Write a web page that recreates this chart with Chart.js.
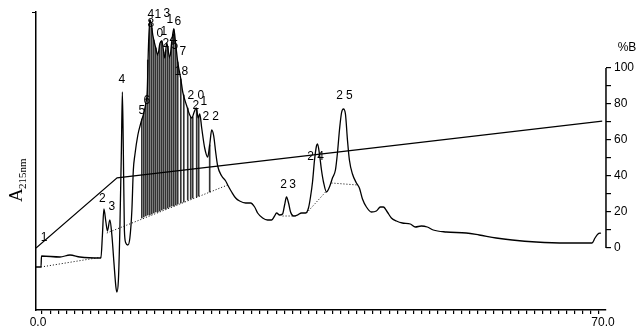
<!DOCTYPE html>
<html>
<head>
<meta charset="utf-8">
<script src="https://cdn.jsdelivr.net/npm/chart.js@4"></script>
<style>
body { margin: 0; background: #fff; }
#wrap { width: 641px; height: 330px; }
</style>
</head>
<body>
<div id="wrap"><canvas id="chromChart"></canvas></div>
<script>
// chromatogram trace (time in min, absorbance in arbitrary units)
const traceTime = [-0.25, 0.37, 0.43, 2.72, 3.96, 5.19, 7.79, 7.98, 8.16, 8.41, 8.6, 8.9, 9.15, 9.4, 9.65, 9.77, 9.96,
  10.14, 10.33, 10.45, 10.57, 10.7, 10.88, 11.13, 11.38, 11.63, 11.81, 12.0, 12.37, 12.74, 13.11, 13.36, 13.54, 13.67,
  13.85, 14.03, 14.22, 14.59, 14.84, 15.09, 15.34, 15.71, 15.95, 16.32, 16.57, 16.82, 17.07, 17.31, 17.69, 17.93,
  18.43, 18.8, 19.05, 19.35, 19.6, 19.85, 20.04, 20.28, 20.65, 21.02, 21.27, 21.52, 21.77, 22.01, 22.26, 22.76, 23.25,
  23.5, 23.99, 24.49, 24.98, 25.72, 26.34, 26.84, 27.21, 27.83, 28.44, 28.94, 29.31, 29.56, 29.93, 30.3, 30.55, 30.79,
  31.04, 31.29, 31.66, 32.15, 32.65, 33.14, 33.51, 33.76, 34.01, 34.26, 34.5, 34.63, 34.87, 35.12, 35.37, 35.74, 36.11,
  36.48, 36.85, 37.1, 37.35, 37.6, 37.84, 38.09, 38.34, 38.58, 38.96, 39.45, 39.82, 40.2, 40.69, 41.31, 41.92, 42.42,
  42.79, 43.28, 43.78, 44.4, 45.14, 46.13, 46.75, 47.49, 48.23, 48.97, 50.58, 53.05, 54.66, 56.76, 58.74, 61.71, 65.42,
  68.64, 69.01, 69.38, 69.75];
const traceAbs = [43, 43, 54, 53, 55, 53, 52, 75, 101, 88, 79, 90, 75, 48, 23, 18, 30,
  80, 160, 218, 160, 80, 67, 65, 72, 100, 140, 155, 175, 187, 197, 207, 220, 260,
  290, 286, 275, 262, 255, 266, 269, 252, 267, 252, 268, 281, 265, 248, 231, 218,
  204, 195, 192, 198, 202, 192, 196, 182, 162, 153, 165, 180, 174, 158, 144, 134, 129,
  125, 118, 112, 109, 107, 107, 103, 97, 92, 90, 90, 94, 97, 95, 96, 105, 113,
  107, 98, 94, 95, 97, 97, 102, 113, 128, 150, 164, 166, 156, 140, 128, 118, 123,
  132, 140, 157, 180, 197, 201, 196, 170, 150, 136, 127, 122, 111, 103, 98, 99, 103,
  103, 98, 92, 89, 87, 86, 83, 84, 83, 80, 78, 77, 75, 72, 70, 68, 67,
  67, 72, 76, 77];

// gradient (%B)
const gradTime = [-0.25, 9.8, 69.9];
const gradB = [0, 39, 70.5];

// integration baselines (null = gap)
const baseTime = [0.37, 7.98, 8.2, 8.53, 23.5, 23.8, 30.3, 32.15, 32.6, 33.27, 35.74, 36.0, 36.36, 39.57];
const baseAbs = [43, 53, null, 77, 125, null, 94, 94, null, 97, 119, null, 127, 125];

// fraction drop lines
const dropTime = [12.86, 13.11, 13.36, 13.6, 13.85, 14.1, 14.35, 14.59, 14.84, 15.09, 15.34, 15.58, 15.83, 16.08,
  16.32, 16.57, 16.82, 17.07, 17.31, 17.69, 18.06, 18.55, 18.92, 19.17, 19.66, 19.91, 21.27];
const dropLow = [92, 93, 94, 95, 95, 96, 97, 98, 98, 99, 100, 101, 101, 102,
  103, 104, 104, 105, 106, 107, 108, 110, 111, 112, 113, 114, 118];
const dropHigh = [191, 197, 207, 250, 290, 282, 270, 262, 255, 266, 269, 258, 260, 263,
  252, 268, 281, 265, 248, 231, 215, 202, 193, 193, 201, 193, 165];

// peak numbers
const labelText = ['1', '2', '3', '4', '5', '6', '4', '1', '3', '8', '1', '6', '0', '1', '2', '4', '5', '7',
  '1', '8', '2', '0', '2', '1', '2', '2', '2', '3', '2', '4', '2', '5'];
const labelTime = [0.74, 7.98, 9.15, 10.39, 12.86, 13.48, 13.97, 14.84, 15.95, 13.97, 16.32, 17.31, 15.09, 15.58,
  15.83, 16.7, 16.94, 17.93, 17.31, 18.18, 18.92, 20.16, 19.54, 20.53, 20.78, 22.01, 30.42, 31.54, 33.76, 35.0,
  37.35, 38.58];
const labelAbs = [72, 111, 103, 230, 199, 209, 295, 295, 296, 286, 290, 288, 276, 278, 266, 270, 264, 258,
  238, 238, 214, 214, 204, 208, 193, 193, 125, 125, 153, 153, 214, 214];

const xLabeled = [0, 70];
const rightLabeled = [0, 20, 40, 60, 80, 100];

const pts = (xs, ys) => xs.map((x, i) => ({ x: x, y: ys[i] }));

const decoPlugin = {
    id: 'deco',
    afterDatasetsDraw(chart) {
        const ctx = chart.ctx;
        const xs = chart.scales.x, ys = chart.scales.y, yr = chart.scales.yB;
        ctx.save();
        // peak labels
        ctx.fillStyle = '#000';
        ctx.font = '12px "Liberation Sans", Arial, sans-serif';
        ctx.textAlign = 'center';
        ctx.textBaseline = 'middle';
        labelText.forEach((t, i) => {
            ctx.fillText(t, xs.getPixelForValue(labelTime[i]), ys.getPixelForValue(labelAbs[i]));
        });
        // %B axis line
        ctx.strokeStyle = '#000';
        ctx.lineWidth = 1.5;
        ctx.beginPath();
        ctx.moveTo(yr.left, yr.getPixelForValue(0));
        ctx.lineTo(yr.left, yr.getPixelForValue(100));
        ctx.stroke();
        ctx.font = '12px "Liberation Sans", Arial, sans-serif';
        ctx.fillText('%B', yr.left + 21, yr.getPixelForValue(100) - 20);
        // left axis top tick
        ctx.lineWidth = 1;
        ctx.beginPath();
        ctx.moveTo(chart.chartArea.left - 4, chart.chartArea.top + 0.5);
        ctx.lineTo(chart.chartArea.left, chart.chartArea.top + 0.5);
        ctx.stroke();
        // A215nm title
        ctx.translate(22, 190);
        ctx.rotate(-Math.PI / 2);
        ctx.textAlign = 'left';
        ctx.textBaseline = 'alphabetic';
        ctx.font = '19px "Liberation Serif", serif';
        ctx.fillText('A', -12, 0);
        ctx.font = '11px "Liberation Serif", serif';
        ctx.fillText('215nm', 1, 4);
        ctx.restore();
    }
};

new Chart(document.getElementById('chromChart'), {
    type: 'line',
    data: {
        datasets: [{
            label: 'A215',
            data: pts(traceTime, traceAbs),
            borderColor: '#000',
            borderWidth: 1.3,
            pointRadius: 0,
            cubicInterpolationMode: 'monotone',
            yAxisID: 'y'
        }, {
            label: '%B',
            data: pts(gradTime, gradB),
            borderColor: '#000',
            borderWidth: 1.2,
            pointRadius: 0,
            yAxisID: 'yB'
        }, {
            label: 'baseline',
            data: pts(baseTime, baseAbs),
            borderColor: '#000',
            borderWidth: 1,
            borderDash: [1, 2],
            pointRadius: 0,
            spanGaps: false,
            yAxisID: 'y'
        }, {
            type: 'bar',
            label: 'fractions',
            data: dropTime.map((t, i) => ({ x: t, y: [dropLow[i], dropHigh[i]] })),
            backgroundColor: '#333',
            barThickness: 1,
            grouped: false,
            yAxisID: 'y'
        }]
    },
    options: {
        responsive: true,
        maintainAspectRatio: false,
        animation: false,
        layout: { padding: { left: 36, top: 12, right: 4, bottom: 0 } },
        plugins: {
            legend: { display: false },
            tooltip: { enabled: false }
        },
        scales: {
            x: {
                type: 'linear',
                min: -0.25,
                max: 70.37,
                offset: false,
                afterBuildTicks: (scale) => {
                    const t = [];
                    for (let v = 0; v <= 70; v++) t.push({ value: v });
                    scale.ticks = t;
                },
                afterFit: (scale) => { scale.height = 20; },
                ticks: {
                    autoSkip: false,
                    maxRotation: 0,
                    padding: 1,
                    color: '#000',
                    font: { family: '"Liberation Sans", Arial, sans-serif', size: 12 },
                    callback: (v) => xLabeled.includes(v) ? v.toFixed(1) : ''
                },
                grid: { drawOnChartArea: false, color: '#000', tickLength: 4, lineWidth: 1.2 },
                border: { display: true, color: '#000', width: 1.5 }
            },
            y: {
                position: 'left',
                min: 0,
                max: 298,
                afterFit: (scale) => { scale.width = 0; },
                ticks: { display: false },
                grid: { display: false },
                border: { display: true, color: '#000', width: 1.5 }
            },
            yB: {
                position: 'right',
                min: -34.44,
                max: 131.1,
                afterBuildTicks: (scale) => {
                    const t = [];
                    for (let v = 0; v <= 100; v += 10) t.push({ value: v });
                    scale.ticks = t;
                },
                ticks: {
                    autoSkip: false,
                    padding: 3,
                    color: '#000',
                    font: { family: '"Liberation Sans", Arial, sans-serif', size: 12 },
                    callback: (v) => rightLabeled.includes(v) ? String(v) : ''
                },
                grid: { drawOnChartArea: false, color: '#000', tickLength: 5, lineWidth: 1.2 },
                border: { display: false }
            }
        }
    },
    plugins: [decoPlugin]
});
</script>
</body>
</html>
